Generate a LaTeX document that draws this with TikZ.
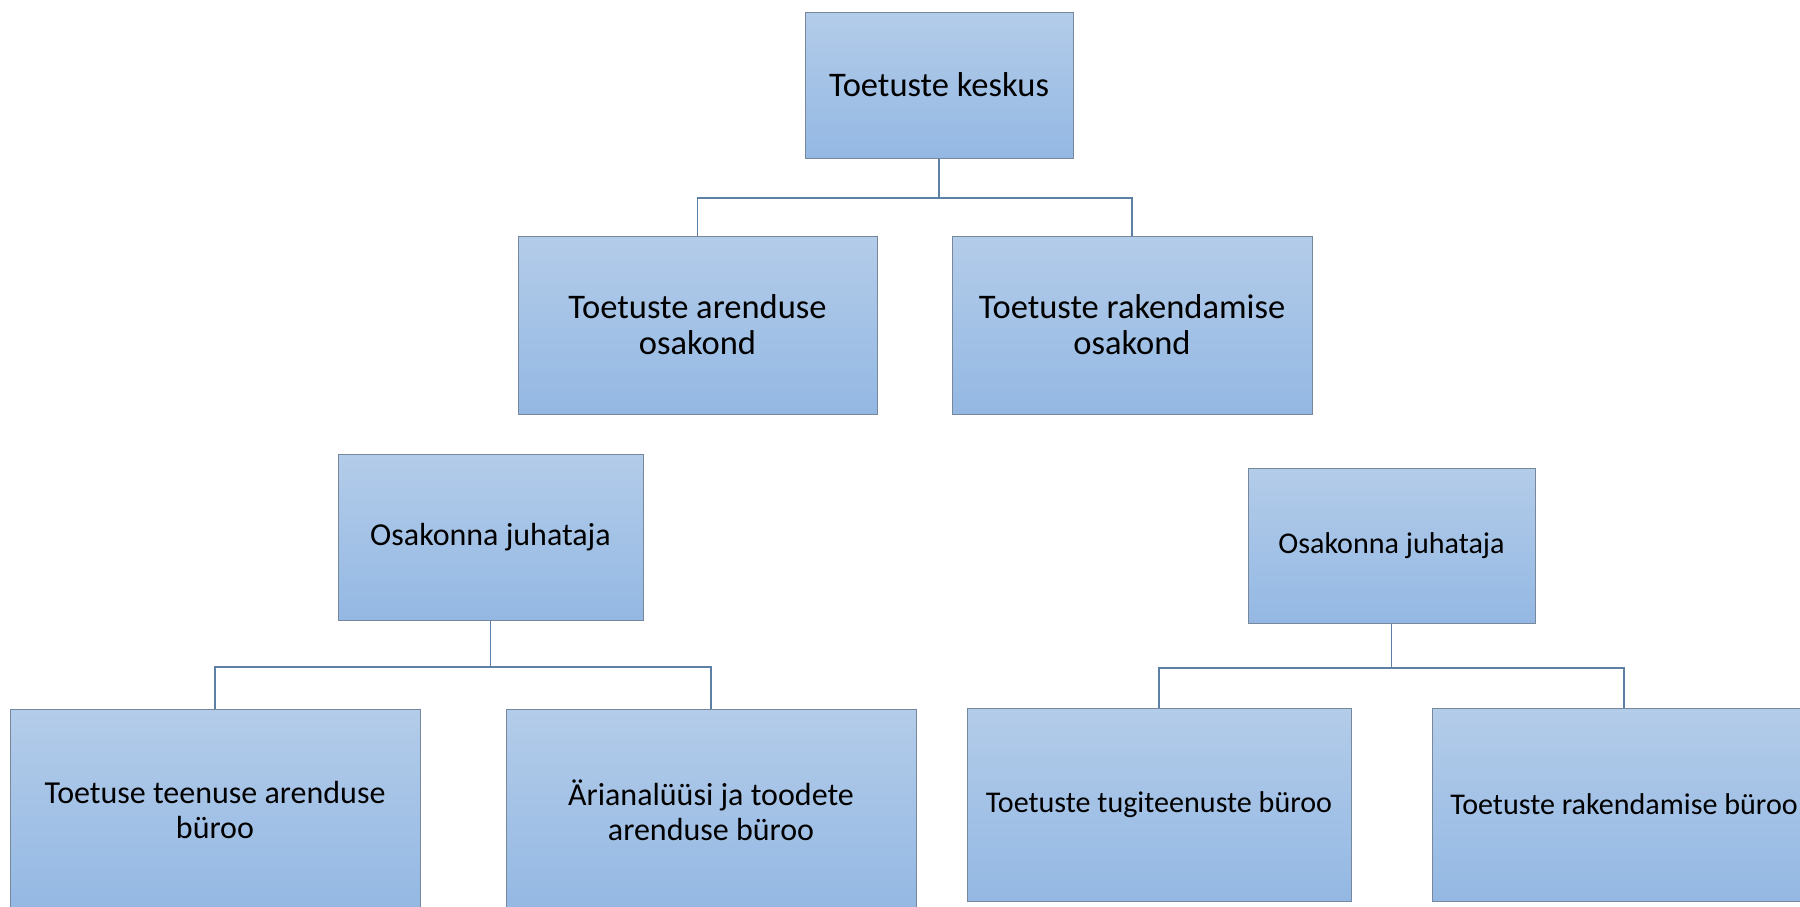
\documentclass[tikz,border=0pt]{standalone}
\usepackage{fontspec}
\setmainfont{Carlito}
\definecolor{boxtop}{RGB}{179,204,233}
\definecolor{boxbot}{RGB}{148,184,227}
\definecolor{boxline}{RGB}{120,136,156}
\definecolor{connline}{RGB}{92,128,166}
\tikzset{
  orgbox/.style={draw=boxline, line width=1pt, top color=boxtop, bottom color=boxbot,
    align=center, inner sep=0pt, text=black},
  bigtext/.style={font=\fontsize{34.5}{36}\selectfont},
  midtext/.style={font=\fontsize{32}{35}\selectfont},
  smalltext/.style={font=\fontsize{30.1}{35}\selectfont},
  conn/.style={draw=connline, line width=1.8pt}
}
\begin{document}
\begin{tikzpicture}[x=1pt,y=-1pt]
\useasboundingbox (0,0) rectangle (1800,906);
\clip (0,0) rectangle (1800,906);
% level 1
\node[orgbox,bigtext,minimum width=268pt,minimum height=146pt] (top) at (939,85) {Toetuste keskus};
% level 2
\node[orgbox,bigtext,minimum width=359pt,minimum height=178pt] (arend) at (697.5,325) {Toetuste arenduse\\osakond};
\node[orgbox,bigtext,minimum width=360pt,minimum height=178pt] (rakend) at (1132,325) {Toetuste rakendamise\\osakond};
% level 3
\node[orgbox,midtext,minimum width=305pt,minimum height=166pt] (juhL) at (490.5,537) {Osakonna juhataja};
\node[orgbox,smalltext,minimum width=287pt,minimum height=155pt] (juhR) at (1391.5,545.5) {Osakonna juhataja};
% level 4
\node[orgbox,midtext,minimum width=410pt,minimum height=202pt] (teen) at (215,810) {Toetuse teenuse arenduse\\büroo};
\node[orgbox,midtext,minimum width=410pt,minimum height=202pt] (ari) at (711,810) {Ärianalüüsi ja toodete\\arenduse büroo};
\node[orgbox,smalltext,minimum width=384pt,minimum height=193pt] (tugi) at (1159,804.5) {Toetuste tugiteenuste büroo};
\node[orgbox,smalltext,minimum width=384pt,minimum height=193pt] (rakb) at (1624,804.5) {Toetuste rakendamise büroo};
% connectors
\coordinate (b1) at (939,198);
\draw[conn] (top.south) -- (b1);
\draw[conn] (arend.north) |- (b1) -| (rakend.north);
\coordinate (b2) at (490.5,667);
\draw[conn] (juhL.south) -- (b2);
\draw[conn] (teen.north) |- (b2) -| (ari.north);
\coordinate (b3) at (1391.5,668);
\draw[conn] (juhR.south) -- (b3);
\draw[conn] (tugi.north) |- (b3) -| (rakb.north);
\end{tikzpicture}
\end{document}
